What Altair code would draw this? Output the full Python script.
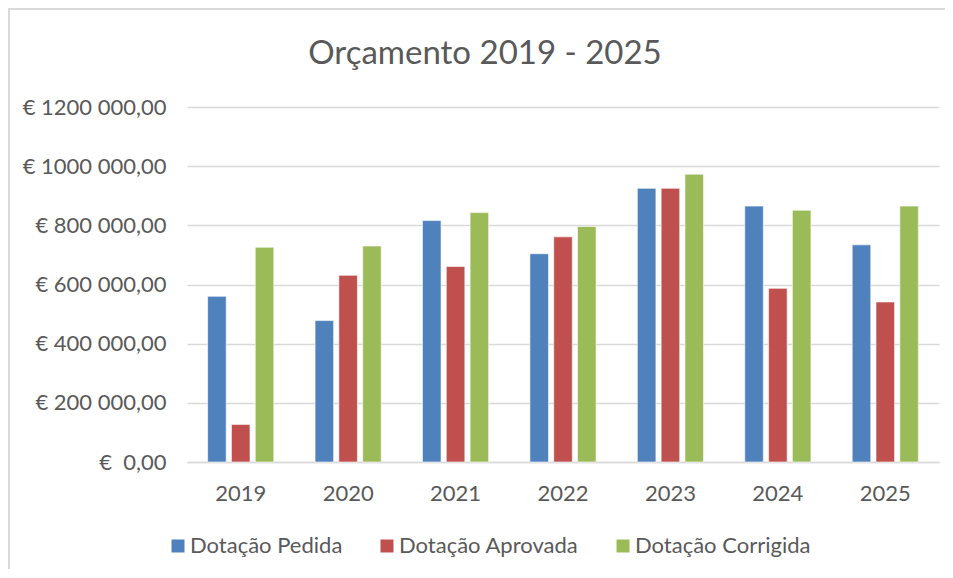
import altair as alt
import pandas as pd

years = ["2019", "2020", "2021", "2022", "2023", "2024", "2025"]
series = ["Dotação Pedida", "Dotação Aprovada", "Dotação Corrigida"]
pedida = [560000, 478000, 816000, 704000, 925000, 865000, 734000]
aprovada = [127000, 631000, 661000, 761000, 925000, 587000, 541000]
corrigida = [726000, 730000, 843000, 796000, 973000, 851000, 865000]
colors = ["#4f81bd", "#c0504d", "#9bbb59"]
tick_values = [0, 200000, 400000, 600000, 800000, 1000000, 1200000]
tick_labels = ["€\u00a0\u00a00,00", "€ 200 000,00", "€ 400 000,00", "€ 600 000,00",
               "€ 800 000,00", "€ 1000 000,00", "€ 1200 000,00"]

rows = []
for name, vals in zip(series, [pedida, aprovada, corrigida]):
    for y, v in zip(years, vals):
        rows.append({"ano": y, "serie": name, "valor": v})
df = pd.DataFrame(rows)

label_expr = "[" + ",".join('"' + t + '"' for t in tick_labels) + "][round(datum.value/200000)]"

FONT = "Lato"
GRID = "#d9d9d9"
TXT = "#595959"

bars = alt.Chart(df).mark_bar(stroke="white", strokeWidth=0.6).encode(
    x=alt.X("ano:N", sort=years, title=None,
            scale=alt.Scale(paddingInner=0.384, paddingOuter=0.192),
            axis=alt.Axis(labelAngle=0, labelFontSize=22, labelFont=FONT, labelColor=TXT,
                          labelPadding=21, ticks=False, domainColor=GRID, domainWidth=1.5)),
    xOffset=alt.XOffset("serie:N", sort=series, scale=alt.Scale(domain=series, paddingInner=0.22)),
    y=alt.Y("valor:Q", title=None,
            scale=alt.Scale(domain=[0, 1200000], nice=False),
            axis=alt.Axis(values=tick_values, labelExpr=label_expr, labelFontSize=22,
                          labelFont=FONT, labelColor=TXT, labelPadding=21, ticks=False,
                          domain=False, gridColor=GRID, gridWidth=1.5, labelLimit=300)),
    color=alt.Color("serie:N", sort=series,
                    scale=alt.Scale(domain=series, range=colors),
                    legend=alt.Legend(title=None, orient="none", legendX=-20, legendY=428,
                                      direction="horizontal", symbolType="square",
                                      symbolSize=169, symbolStrokeWidth=0,
                                      labelFontSize=22, labelFont=FONT, labelColor=TXT,
                                      labelOffset=1, columnPadding=33, labelLimit=400)),
)

# chart-area border (top and left edges, as in the reference)
frame = pd.DataFrame({"k": [0]})
border_top = alt.Chart(frame).mark_rule(color=GRID, strokeWidth=2).encode(
    x=alt.value(-179), x2=alt.value(758), y=alt.value(-98), y2=alt.value(-98))
border_left = alt.Chart(frame).mark_rule(color=GRID, strokeWidth=2).encode(
    x=alt.value(-178), x2=alt.value(-178), y=alt.value(-99), y2=alt.value(462))

chart = alt.layer(bars, border_top, border_left).properties(
    width=752,
    height=355,
    title=alt.TitleParams("Orçamento 2019 - 2025", fontSize=33, font=FONT, color=TXT,
                          fontWeight="normal", anchor="middle", dx=-78, dy=90, offset=0,
                          baseline="alphabetic"),
    autosize=alt.AutoSizeParams(type="none"),
    padding={"left": 179, "top": 99, "right": 6, "bottom": 108},
    view=alt.ViewBackground(strokeWidth=0, stroke="transparent"),
).configure_view(strokeWidth=0, stroke="transparent").configure(background="white")

chart.save("out.html", embed_options={"renderer": "svg", "actions": False})
